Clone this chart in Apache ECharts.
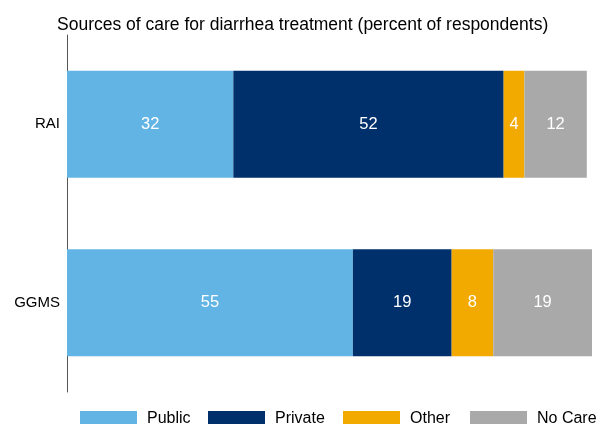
<!DOCTYPE html>
<html>
<head>
<meta charset="utf-8">
<title>Sources of care for diarrhea treatment</title>
<script src="https://cdn.jsdelivr.net/npm/echarts@6/dist/echarts.min.js"></script>
<style>
  html, body { margin: 0; padding: 0; background: #ffffff; }
  #chart { width: 598px; height: 424px; }
</style>
</head>
<body>
<div id="chart"></div>
<script>
// Survey groups, top to bottom
const categories = ['RAI', 'GGMS'];

// Percent of respondents by source of care
const publicCare  = [32, 55];
const privateCare = [52, 19];
const otherCare   = [4, 8];
const noCare      = [12, 19];

const seriesNames = ['Public', 'Private', 'Other', 'No Care'];
const seriesData  = [publicCare, privateCare, otherCare, noCare];
const colors      = ['#62B4E4', '#00306B', '#F2A900', '#A9A9AA'];

// Left edge of each legend entry along the bottom row
const legendLeft  = [80, 208, 343, 470];

const FONT = 'Liberation Sans, Arial, Helvetica, sans-serif';

const chart = echarts.init(document.getElementById('chart'), null, { renderer: 'canvas' });

chart.setOption({
  animation: false,
  backgroundColor: '#ffffff',
  title: {
    text: 'Sources of care for diarrhea treatment (percent of respondents)',
    left: 52,
    top: 11.5,
    textStyle: { fontFamily: FONT, fontSize: 17.5, fontWeight: 'normal', color: '#000000' }
  },
  // one legend per entry so the row can run past the right edge without wrapping
  legend: seriesNames.map((name, i) => ({
    data: [name],
    left: legendLeft[i],
    top: 411,
    padding: 0,
    itemWidth: 57,
    itemHeight: 16,
    icon: 'rect',
    textStyle: { fontFamily: FONT, fontSize: 16, color: '#000000', padding: [6, 0, 0, 5] },
    selectedMode: false
  })),
  grid: { left: 67, top: 35, width: 525, height: 357, containLabel: false },
  xAxis: {
    type: 'value',
    min: 0,
    max: 101,
    show: false
  },
  yAxis: {
    type: 'category',
    data: categories,
    inverse: true,
    axisLine: { show: true, lineStyle: { color: '#555555', width: 1 } },
    axisTick: { show: false },
    axisLabel: { fontFamily: FONT, fontSize: 15, color: '#000000', margin: 7 }
  },
  series: seriesData.map((vals, i) => ({
    name: seriesNames[i],
    type: 'bar',
    stack: 'care',
    data: vals,
    barWidth: '60%',
    itemStyle: { color: colors[i] },
    label: {
      show: true,
      position: 'inside',
      color: '#ffffff',
      fontFamily: FONT,
      fontSize: 16.5
    }
  }))
});
</script>
</body>
</html>
